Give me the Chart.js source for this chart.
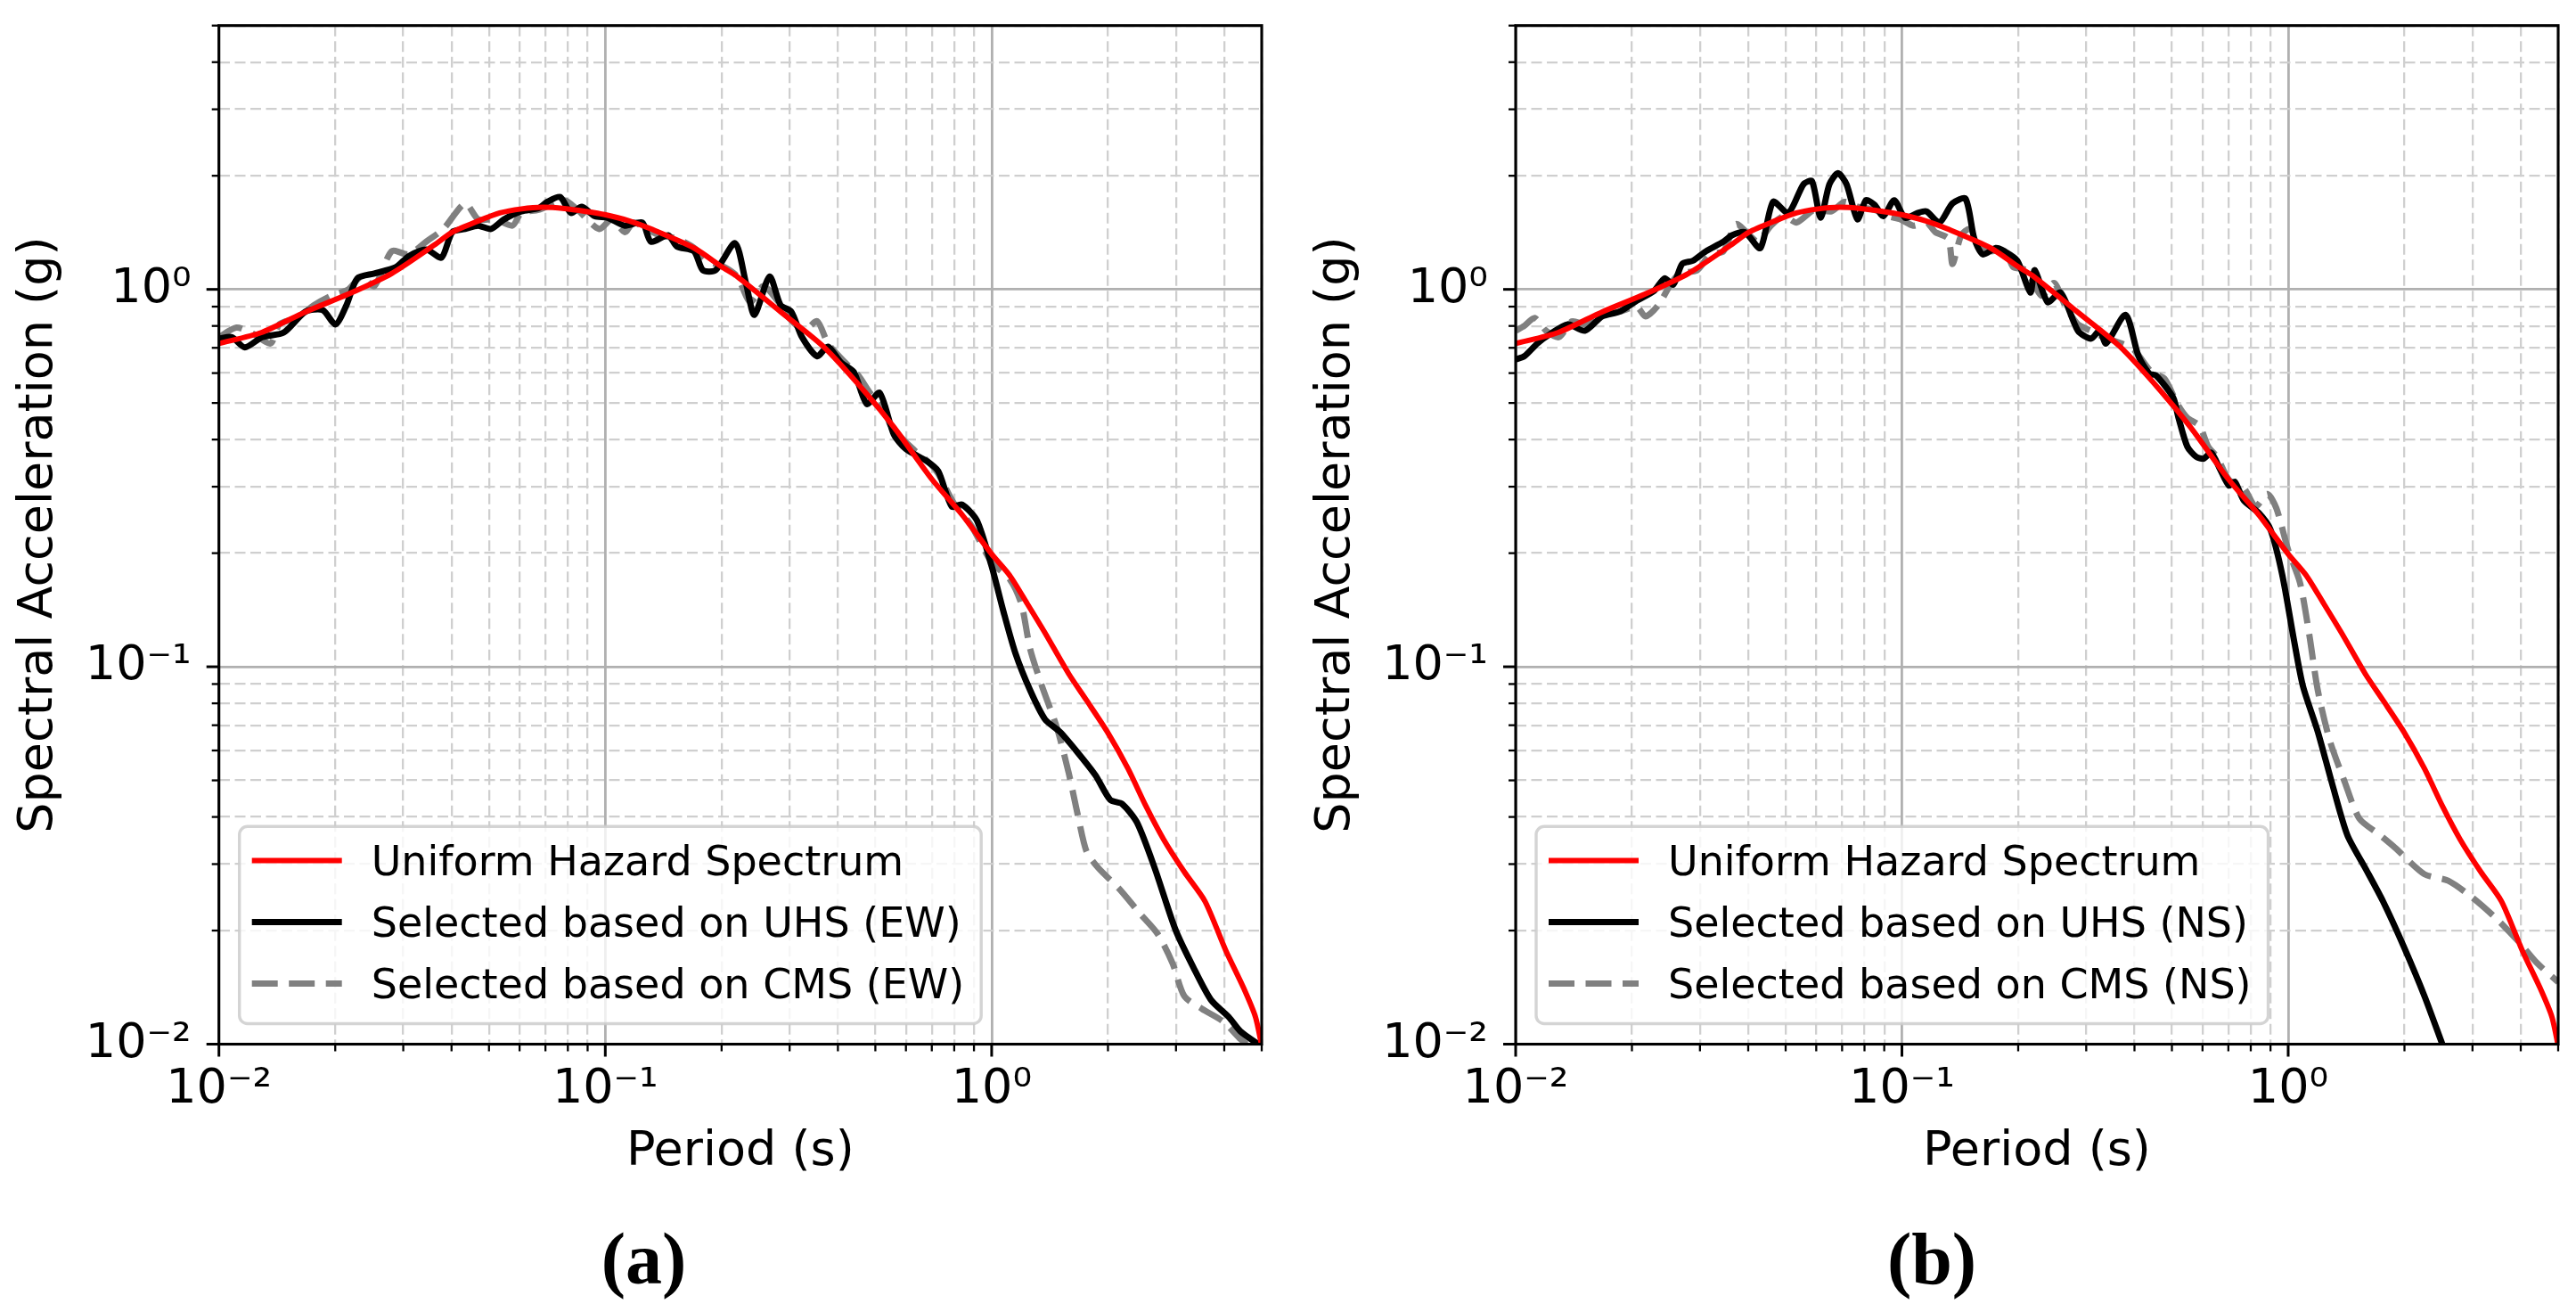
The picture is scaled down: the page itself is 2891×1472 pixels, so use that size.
<!DOCTYPE html>
<html>
<head>
<meta charset="utf-8">
<script src="https://cdn.jsdelivr.net/npm/chart.js@4.4.1/dist/chart.umd.min.js"></script>
<style>
html,body{margin:0;padding:0;background:#fff;overflow:hidden;}
canvas{position:absolute;top:0;}
#ca{left:0;}
#cb{left:1445px;}
</style>
</head>
<body>
<canvas id="ca" width="1445" height="1472"></canvas>
<canvas id="cb" width="1446" height="1472"></canvas>
<script>
// ---------------- data ----------------
const uhsPeriod = [0.01, 0.0129, 0.0168, 0.0216, 0.028, 0.0362, 0.0402, 0.0469, 0.0533, 0.0607, 0.0689, 0.0784, 0.0891, 0.0996, 0.1153, 0.1312, 0.1697, 0.2006, 0.2196, 0.284, 0.367, 0.47, 0.56, 0.702, 0.838, 1.0, 1.112, 1.236, 1.374, 1.583, 1.76, 1.991, 2.254, 2.506, 2.786, 3.153, 3.567, 4.037, 4.487, 4.818, 5.0];
const uhsSa = [0.719, 0.769, 0.873, 0.971, 1.102, 1.313, 1.418, 1.518, 1.594, 1.634, 1.651, 1.638, 1.609, 1.578, 1.518, 1.446, 1.287, 1.146, 1.081, 0.873, 0.705, 0.535, 0.43, 0.313, 0.253, 0.199, 0.175, 0.147, 0.123, 0.0958, 0.0815, 0.0673, 0.0537, 0.0428, 0.0349, 0.0286, 0.0239, 0.0177, 0.0141, 0.0118, 0.0099];

const ewUhsPeriod = [0.01, 0.0108, 0.01167, 0.01294, 0.01472, 0.01675, 0.01855, 0.02004, 0.02138, 0.02282, 0.02526, 0.02873, 0.03105, 0.03443, 0.03767, 0.04017, 0.04337, 0.04687, 0.0506, 0.0547, 0.0606, 0.0672, 0.0708, 0.0764, 0.0815, 0.0869, 0.094, 0.1015, 0.1124, 0.1247, 0.1312, 0.1455, 0.1531, 0.1697, 0.1788, 0.193, 0.2168, 0.2312, 0.2432, 0.2663, 0.2841, 0.3029, 0.323, 0.3534, 0.377, 0.4074, 0.4398, 0.4752, 0.513, 0.558, 0.599, 0.678, 0.727, 0.788, 0.838, 0.916, 1.0, 1.073, 1.152, 1.258, 1.374, 1.501, 1.669, 1.856, 2.027, 2.176, 2.377, 2.642, 2.991, 3.325, 3.696, 4.11, 4.41, 4.9];
const ewUhsSa = [0.74, 0.747, 0.702, 0.747, 0.769, 0.873, 0.882, 0.808, 0.908, 1.07, 1.102, 1.146, 1.226, 1.275, 1.214, 1.418, 1.446, 1.475, 1.446, 1.533, 1.609, 1.641, 1.706, 1.757, 1.594, 1.656, 1.563, 1.548, 1.475, 1.504, 1.338, 1.391, 1.3, 1.262, 1.124, 1.124, 1.325, 1.04, 0.856, 1.081, 0.908, 0.873, 0.747, 0.665, 0.705, 0.64, 0.604, 0.497, 0.532, 0.413, 0.378, 0.351, 0.33, 0.266, 0.269, 0.244, 0.1846, 0.14, 0.1086, 0.0866, 0.0726, 0.0673, 0.0593, 0.0516, 0.0444, 0.0433, 0.0387, 0.0293, 0.0201, 0.016, 0.0131, 0.0118, 0.0108, 0.01];

const ewCmsPeriod = [0.01, 0.0111, 0.01229, 0.01361, 0.01434, 0.0159, 0.01761, 0.01953, 0.02163, 0.02337, 0.02526, 0.028, 0.031, 0.0344, 0.0381, 0.04337, 0.0469, 0.0519, 0.0575, 0.0606, 0.0672, 0.0784, 0.0847, 0.0964, 0.104, 0.1124, 0.1184, 0.128, 0.138, 0.153, 0.17, 0.1834, 0.2032, 0.2196, 0.2373, 0.2563, 0.2768, 0.299, 0.3273, 0.3534, 0.377, 0.4178, 0.4514, 0.4876, 0.5267, 0.548, 0.632, 0.69, 0.727, 0.795, 0.884, 1.0, 1.112, 1.193, 1.258, 1.35, 1.475, 1.583, 1.669, 1.76, 1.888, 2.138, 2.419, 2.689, 2.938, 3.153, 3.505, 3.966, 4.41, 4.57];
const ewCmsSa = [0.747, 0.792, 0.762, 0.719, 0.808, 0.84, 0.908, 0.962, 1.0, 1.081, 1.02, 1.262, 1.238, 1.338, 1.446, 1.69, 1.533, 1.533, 1.475, 1.594, 1.625, 1.722, 1.625, 1.446, 1.533, 1.418, 1.504, 1.446, 1.391, 1.364, 1.287, 1.191, 1.146, 1.081, 0.925, 1.02, 0.943, 0.84, 0.777, 0.824, 0.719, 0.64, 0.592, 0.527, 0.487, 0.435, 0.374, 0.347, 0.325, 0.273, 0.2374, 0.189, 0.171, 0.147, 0.1114, 0.0888, 0.069, 0.0523, 0.0407, 0.0324, 0.0293, 0.0258, 0.0222, 0.0196, 0.0164, 0.0134, 0.0124, 0.0115, 0.0103, 0.01];

const nsUhsPeriod = [0.01, 0.01053, 0.01138, 0.0123, 0.01363, 0.0151, 0.01675, 0.01857, 0.0206, 0.0228, 0.0243, 0.0256, 0.02698, 0.02877, 0.0311, 0.0345, 0.0363, 0.0392, 0.043, 0.0464, 0.0508, 0.0556, 0.0585, 0.0616, 0.0649, 0.0683, 0.0719, 0.0767, 0.0807, 0.085, 0.0895, 0.0955, 0.1019, 0.1099, 0.1158, 0.1251, 0.1352, 0.1461, 0.1539, 0.162, 0.175, 0.1842, 0.199, 0.215, 0.2208, 0.2384, 0.2576, 0.2855, 0.3086, 0.325, 0.3378, 0.3793, 0.4098, 0.437, 0.4543, 0.5036, 0.52, 0.548, 0.578, 0.604, 0.632, 0.666, 0.7025, 0.728, 0.767, 0.838, 0.899, 0.965, 1.036, 1.092, 1.193, 1.303, 1.423, 1.583, 1.76, 1.991, 2.254, 2.506];
const nsUhsSa = [0.652, 0.665, 0.719, 0.762, 0.808, 0.777, 0.848, 0.873, 0.934, 0.99, 1.07, 1.03, 1.168, 1.191, 1.262, 1.338, 1.391, 1.418, 1.287, 1.706, 1.594, 1.898, 1.935, 1.548, 1.898, 2.031, 1.898, 1.533, 1.722, 1.674, 1.563, 1.722, 1.548, 1.594, 1.609, 1.504, 1.69, 1.739, 1.364, 1.238, 1.287, 1.262, 1.191, 0.981, 1.124, 0.925, 0.981, 0.777, 0.74, 0.777, 0.719, 0.856, 0.665, 0.598, 0.592, 0.517, 0.457, 0.3834, 0.36, 0.356, 0.369, 0.334, 0.302, 0.309, 0.276, 0.256, 0.2315, 0.1755, 0.117, 0.0888, 0.0673, 0.0485, 0.0358, 0.0293, 0.0239, 0.01815, 0.0134, 0.01];

const nsCmsPeriod = [0.01, 0.01053, 0.0112, 0.01198, 0.01294, 0.014, 0.0151, 0.01675, 0.0186, 0.0206, 0.02168, 0.0234, 0.0253, 0.0266, 0.0295, 0.0319, 0.0345, 0.0372, 0.0403, 0.0424, 0.0458, 0.0495, 0.0534, 0.0593, 0.0657, 0.071, 0.0767, 0.085, 0.0918, 0.0992, 0.107, 0.1158, 0.122, 0.1318, 0.1352, 0.1424, 0.15, 0.16, 0.1705, 0.1842, 0.194, 0.2096, 0.2296, 0.2478, 0.2643, 0.2855, 0.3086, 0.3335, 0.37, 0.3993, 0.4426, 0.4783, 0.5167, 0.548, 0.589, 0.621, 0.654, 0.7025, 0.767, 0.823, 0.884, 0.932, 1.0, 1.073, 1.132, 1.193, 1.28, 1.399, 1.528, 1.729, 1.888, 2.254, 2.596, 2.991, 3.444, 3.967, 4.41, 5.0];
const nsCmsSa = [0.777, 0.8, 0.84, 0.777, 0.747, 0.823, 0.808, 0.856, 0.873, 0.899, 0.848, 0.908, 1.04, 1.102, 1.124, 1.238, 1.262, 1.489, 1.391, 1.338, 1.475, 1.563, 1.504, 1.625, 1.609, 1.706, 1.656, 1.625, 1.563, 1.533, 1.475, 1.504, 1.418, 1.364, 1.168, 1.391, 1.446, 1.313, 1.262, 1.287, 1.146, 1.124, 0.962, 1.04, 0.908, 0.808, 0.777, 0.747, 0.719, 0.691, 0.604, 0.58, 0.497, 0.457, 0.435, 0.383, 0.36, 0.313, 0.298, 0.266, 0.287, 0.263, 0.204, 0.167, 0.123, 0.0866, 0.064, 0.0497, 0.0396, 0.0358, 0.0332, 0.0282, 0.0271, 0.0245, 0.0216, 0.0186, 0.0164, 0.0146];

const seriesLabelsA = ['Uniform Hazard Spectrum', 'Selected based on UHS (EW)', 'Selected based on CMS (EW)'];
const seriesLabelsB = ['Uniform Hazard Spectrum', 'Selected based on UHS (NS)', 'Selected based on CMS (NS)'];
const panelCaptions = ['(a)', '(b)'];
const xTitle = 'Period (s)';
const yTitle = 'Spectral Acceleration (g)';
const decadeValues = [0.01, 0.1, 1];
const decadeLabels = ['10\u207B\u00B2', '10\u207B\u00B9', '10\u2070'];
const minorMantissas = [2, 3, 4, 5, 6, 7, 8, 9];
const axisMin = 0.01;
const axisMax = 5;

// ---------------- helpers ----------------
Chart.defaults.font.family = "'DejaVu Sans'";
Chart.defaults.color = '#000';

function buildLogTicks() {
  const t = [];
  decadeValues.forEach(d => {
    t.push({value: d, major: true});
    minorMantissas.forEach(m => {
      const v = +(m * d).toPrecision(8);
      if (v <= axisMax + 1e-9) t.push({value: v, major: false});
    });
  });
  return t.sort((a, b) => a.value - b.value);
}
function tickLabel(value, index, ticks) {
  const t = ticks[index];
  if (!t || !t.major) return '';
  const k = decadeValues.findIndex(d => Math.abs(Math.log10(d) - Math.log10(value)) < 1e-6);
  return k >= 0 ? decadeLabels[k] : '';
}
const isMajorCtx = c => !!(c.tick && c.tick.major);

const gridOpts = {
  color: c => isMajorCtx(c) ? '#b0b0b0' : '#cfcfcf',
  lineWidth: c => isMajorCtx(c) ? 2.8 : 2.3,
  drawTicks: true,
  tickLength: 15,
  tickColor: 'rgba(0,0,0,0)',
  tickWidth: 1
};
const borderOpts = {display: false, dash: c => isMajorCtx(c) ? [] : [12, 5.5]};

const framePlugin = {
  id: 'mplFrame',
  afterDatasetsDraw(chart) {
    const {ctx, chartArea: a} = chart;
    const xs = chart.scales.x, ys = chart.scales.y;
    ctx.save();
    ctx.strokeStyle = '#000';
    ctx.lineCap = 'butt';
    xs.ticks.forEach(t => {
      const p = xs.getPixelForValue(t.value);
      ctx.lineWidth = t.major ? 3 : 2.3;
      ctx.beginPath(); ctx.moveTo(p, a.bottom); ctx.lineTo(p, a.bottom + (t.major ? 14 : 8)); ctx.stroke();
    });
    ys.ticks.forEach(t => {
      const p = ys.getPixelForValue(t.value);
      ctx.lineWidth = t.major ? 3 : 2.3;
      ctx.beginPath(); ctx.moveTo(a.left, p); ctx.lineTo(a.left - (t.major ? 14 : 8), p); ctx.stroke();
    });
    ctx.lineWidth = 3.1;
    ctx.strokeRect(a.left, a.top, a.right - a.left, a.bottom - a.top);
    ctx.restore();
  }
};

const legendPlugin = {
  id: 'mplLegend',
  afterDraw(chart) {
    const {ctx, chartArea: a} = chart;
    const ds = chart.data.datasets;
    ctx.save();
    ctx.font = "46px 'DejaVu Sans'";
    const maxW = Math.max(...ds.map(d => ctx.measureText(d.label).width));
    const left = a.left + 23;
    const bottom = a.bottom - 23;
    const rowGap = 69;
    const lastBase = bottom - 28.4;
    const firstBase = lastBase - (ds.length - 1) * rowGap;
    const top = firstBase - 54.8;
    const textX = left + 148;
    const right = textX + maxW + 19;
    const r = 9;
    ctx.beginPath();
    ctx.moveTo(left + r, top);
    ctx.arcTo(right, top, right, bottom, r);
    ctx.arcTo(right, bottom, left, bottom, r);
    ctx.arcTo(left, bottom, left, top, r);
    ctx.arcTo(left, top, right, top, r);
    ctx.closePath();
    ctx.fillStyle = 'rgba(255,255,255,0.8)';
    ctx.fill();
    ctx.lineWidth = 3.4;
    ctx.strokeStyle = 'rgba(204,204,204,0.85)';
    ctx.stroke();
    ds.forEach((d, i) => {
      const base = firstBase + i * rowGap;
      const hy = base - 16.6;
      ctx.beginPath();
      ctx.strokeStyle = d.borderColor;
      ctx.lineWidth = d.borderWidth;
      ctx.setLineDash(d.borderDash || []);
      ctx.lineCap = 'butt';
      ctx.moveTo(left + 14, hy);
      ctx.lineTo(left + 115, hy);
      ctx.stroke();
      ctx.setLineDash([]);
      ctx.fillStyle = '#000';
      ctx.textAlign = 'left';
      ctx.textBaseline = 'alphabetic';
      ctx.fillText(d.label, textX, base);
    });
    ctx.restore();
  }
};

const captionPlugin = {
  id: 'mplCaption',
  afterDraw(chart, args, opts) {
    const {ctx} = chart;
    ctx.save();
    ctx.font = "bold 82px 'Liberation Serif'";
    ctx.fillStyle = '#000';
    ctx.textAlign = 'center';
    ctx.textBaseline = 'middle';
    ctx.fillText(opts.text, chart.width / 2, chart.chartArea.bottom + 247);
    ctx.restore();
  }
};

function makeChart(id, cfg) {
  const series = [
    {label: cfg.labels[0], period: uhsPeriod, sa: uhsSa, color: '#ff0000', width: 6, dash: []},
    {label: cfg.labels[1], period: cfg.uhsPeriod, sa: cfg.uhsSa, color: '#000000', width: 7, dash: []},
    {label: cfg.labels[2], period: cfg.cmsPeriod, sa: cfg.cmsSa, color: '#808080', width: 7, dash: [29, 12.5]}
  ];
  return new Chart(document.getElementById(id), {
    type: 'line',
    data: {
      datasets: series.map(s => ({
        label: s.label,
        data: s.period.map((t, i) => ({x: t, y: s.sa[i]})),
        borderColor: s.color,
        borderWidth: s.width,
        borderDash: s.dash,
        pointRadius: 0,
        pointHoverRadius: 0,
        fill: false,
        tension: 0.25,
        borderJoinStyle: 'round',
        borderCapStyle: 'butt',
        clip: 0
      }))
    },
    options: {
      responsive: false,
      animation: false,
      events: [],
      layout: {padding: {top: 28.7, right: cfg.padRight, bottom: 0, left: 0}},
      plugins: {
        legend: {display: false},
        tooltip: {enabled: false},
        title: {display: false},
        mplCaption: {text: cfg.caption}
      },
      scales: {
        x: {
          type: 'logarithmic', min: axisMin, max: axisMax, position: 'bottom',
          afterBuildTicks: s => { s.ticks = buildLogTicks(); },
          afterFit: s => { s.height = 300.5; s.paddingLeft = 0; s.paddingRight = 0; },
          grid: gridOpts,
          border: borderOpts,
          ticks: {autoSkip: false, maxRotation: 0, minRotation: 0, padding: 4, color: '#000',
                  font: {family: "'DejaVu Sans'", size: 54}, callback: tickLabel},
          title: {display: true, text: xTitle, color: '#000',
                  font: {family: "'DejaVu Sans'", size: 54}, padding: {top: 0, bottom: 147}}
        },
        y: {
          type: 'logarithmic', min: axisMin, max: axisMax, position: 'left',
          afterBuildTicks: s => { s.ticks = buildLogTicks(); },
          afterFit: s => { s.width = cfg.yWidth; s.paddingTop = 0; s.paddingBottom = 0; },
          grid: gridOpts,
          border: borderOpts,
          ticks: {autoSkip: false, padding: 16, color: '#000',
                  font: {family: "'DejaVu Sans'", size: 54}, callback: tickLabel},
          title: {display: true, text: yTitle, color: '#000',
                  font: {family: "'DejaVu Sans'", size: 54}, padding: {top: cfg.yTitlePad, bottom: 0}}
        }
      }
    },
    plugins: [framePlugin, legendPlugin, captionPlugin]
  });
}

makeChart('ca', {labels: seriesLabelsA, uhsPeriod: ewUhsPeriod, uhsSa: ewUhsSa, cmsPeriod: ewCmsPeriod, cmsSa: ewCmsSa,
  caption: panelCaptions[0], padRight: 29, yWidth: 245.7, yTitlePad: 11.6});
makeChart('cb', {labels: seriesLabelsB, uhsPeriod: nsUhsPeriod, uhsSa: nsUhsSa, cmsPeriod: nsCmsPeriod, cmsSa: nsCmsSa,
  caption: panelCaptions[1], padRight: 20, yWidth: 256, yTitlePad: 22.4});
</script>
</body>
</html>
